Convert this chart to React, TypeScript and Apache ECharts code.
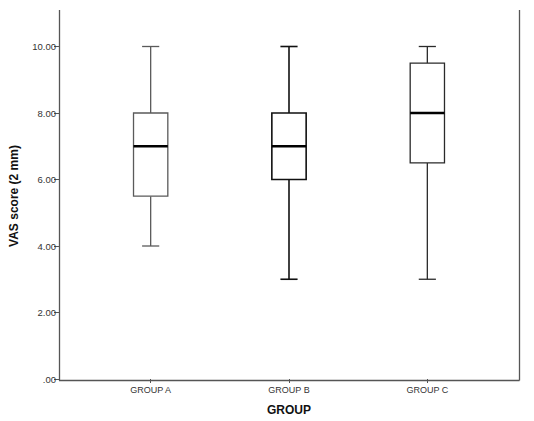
import React, { useEffect, useRef } from "react";
import * as echarts from "echarts";

const categories = ["GROUP A", "GROUP B", "GROUP C"];
// [min, q1, median, q3, max]
const minValues = [4, 3, 3];
const q1Values = [5.5, 6, 6.5];
const medianValues = [7, 7, 8];
const q3Values = [8, 8, 9.5];
const maxValues = [10, 10, 10];
const yTicks = [0, 2, 4, 6, 8, 10];

const boxStyles = [
  { stroke: "#5a5a5a", lineWidth: 1.3 },
  { stroke: "#111111", lineWidth: 1.6 },
  { stroke: "#2a2a2a", lineWidth: 1.3 },
];

const FONT = "'Liberation Sans', Arial, sans-serif";

export default function App() {
  const ref = useRef<HTMLDivElement>(null);
  useEffect(() => {
    if (!ref.current) return;
    const chart = echarts.init(ref.current, null, { renderer: "svg" });
    const data = categories.map((c, i) => [
      i,
      minValues[i],
      q1Values[i],
      medianValues[i],
      q3Values[i],
      maxValues[i],
    ]);
    const frameColor = "#555555";
    chart.setOption({
      animation: false,
      backgroundColor: "#ffffff",
      grid: { left: 81.5, right: 37.5, top: 46.5, bottom: 41 },
      xAxis: {
        type: "category",
        data: categories,
        boundaryGap: true,
        axisLine: { show: false },
        axisTick: {
          show: true,
          alignWithLabel: true,
          length: 4,
          lineStyle: { color: frameColor, width: 1 },
        },
        axisLabel: {
          color: "#333",
          fontSize: 9,
          fontFamily: FONT,
          margin: 6,
        },
        name: "GROUP",
        nameLocation: "middle",
        nameGap: 25,
        nameTextStyle: {
          color: "#111",
          fontSize: 12,
          fontWeight: "bold",
          fontFamily: FONT,
        },
        splitLine: { show: false },
      },
      yAxis: {
        type: "value",
        min: yTicks[0],
        max: yTicks[yTicks.length - 1],
        interval: 2,
        offset: 22.5,
        axisLine: { show: false },
        axisTick: {
          show: true,
          length: 5,
          lineStyle: { color: frameColor, width: 1 },
        },
        axisLabel: {
          color: "#333",
          fontSize: 9.5,
          fontFamily: FONT,
          margin: 3,
          formatter: (v: number) => (v === 0 ? ".00" : v.toFixed(2)),
        },
        splitLine: { show: false },
      },
      graphic: [
        {
          type: "line",
          shape: { x1: 59.5, y1: 10, x2: 59.5, y2: 380.5 },
          style: { stroke: frameColor, lineWidth: 1.3 },
          z: 10,
        },
        {
          type: "line",
          shape: { x1: 59, y1: 380.5, x2: 519.5, y2: 380.5 },
          style: { stroke: frameColor, lineWidth: 1.3 },
          z: 10,
        },
        {
          type: "line",
          shape: { x1: 519.5, y1: 10, x2: 519.5, y2: 380.5 },
          style: { stroke: frameColor, lineWidth: 1.3 },
          z: 10,
        },
        {
          type: "text",
          x: 14,
          y: 196,
          rotation: Math.PI / 2,
          style: {
            text: "VAS score (2 mm)",
            fill: "#111",
            font: `bold 12px ${FONT}`,
            align: "center",
            verticalAlign: "middle",
          },
        },
      ],
      series: [
        {
          type: "custom",
          data,
          encode: { x: 0, y: [1, 2, 3, 4, 5] },
          renderItem: (params: any, api: any) => {
            const x = api.value(0);
            const pMin = api.coord([x, api.value(1)]);
            const pQ1 = api.coord([x, api.value(2)]);
            const pMed = api.coord([x, api.value(3)]);
            const pQ3 = api.coord([x, api.value(4)]);
            const pMax = api.coord([x, api.value(5)]);
            const band = api.size([1, 0])[0];
            const bw = band * 0.248;
            const cw = bw / 2;
            const cx = pMed[0];
            const st = boxStyles[params.dataIndex];
            const ls = { stroke: st.stroke, lineWidth: st.lineWidth, fill: "none" };
            return {
              type: "group",
              children: [
                {
                  type: "line",
                  shape: { x1: cx, y1: pMax[1], x2: cx, y2: pQ3[1] },
                  style: ls,
                },
                {
                  type: "line",
                  shape: { x1: cx, y1: pQ1[1], x2: cx, y2: pMin[1] },
                  style: ls,
                },
                {
                  type: "line",
                  shape: { x1: cx - cw / 2, y1: pMax[1], x2: cx + cw / 2, y2: pMax[1] },
                  style: ls,
                },
                {
                  type: "line",
                  shape: { x1: cx - cw / 2, y1: pMin[1], x2: cx + cw / 2, y2: pMin[1] },
                  style: ls,
                },
                {
                  type: "rect",
                  shape: {
                    x: cx - bw / 2,
                    y: pQ3[1],
                    width: bw,
                    height: pQ1[1] - pQ3[1],
                  },
                  style: { stroke: st.stroke, lineWidth: st.lineWidth, fill: "#ffffff" },
                },
                {
                  type: "line",
                  shape: { x1: cx - bw / 2, y1: pMed[1], x2: cx + bw / 2, y2: pMed[1] },
                  style: { stroke: "#000", lineWidth: 2.6 },
                },
              ],
            };
          },
        },
      ],
    });
    return () => chart.dispose();
  }, []);
  return (
    <div
      ref={ref}
      style={{ position: "fixed", left: 0, top: 0, width: 534, height: 421 }}
    />
  );
}
